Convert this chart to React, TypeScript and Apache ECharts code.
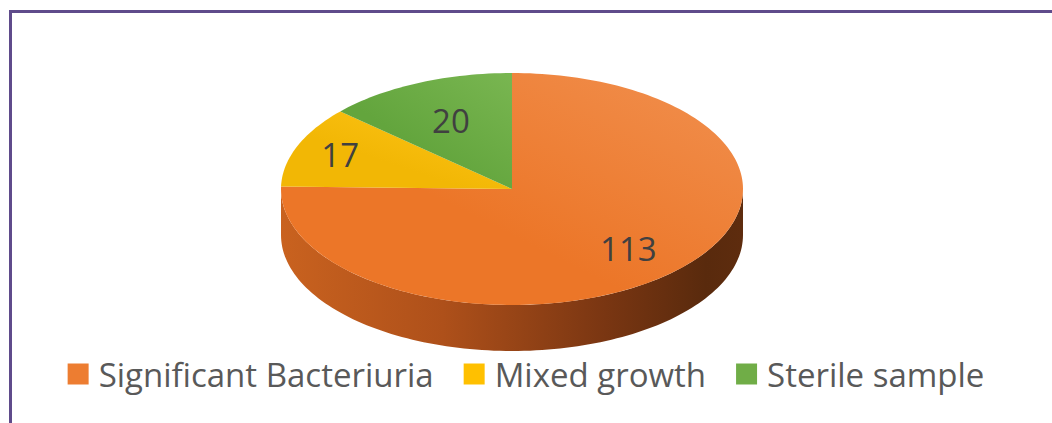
import React, { useEffect, useRef } from "react";
import * as echarts from "echarts";

const categories = ["Significant Bacteriuria", "Mixed growth", "Sterile sample"];
const values = [113, 17, 20];
const colors = ["#ED7D31", "#FFC000", "#70AD47"];
const topGradients = [
  ["#F1904F", "#EC7628"],
  ["#FFC61A", "#F2B705"],
  ["#79B651", "#63A53D"],
];

// layout of the tilted pie
const CX = 512;
const CY = 189;
const RX = 231;
const RY = 116;
const DEPTH = 46;
const LABEL_RADIUS = [0.72, 0.8, 0.65];

const total = values.reduce((a, b) => a + b, 0);
const startAngle = (i: number) =>
  (values.slice(0, i).reduce((a, b) => a + b, 0) / total) * Math.PI * 2;

const pt = (a: number, dy = 0): number[] => [CX + RX * Math.sin(a), CY - RY * Math.cos(a) + dy];

const arcPoints = (a0: number, a1: number, dy = 0) => {
  const pts: number[][] = [];
  const n = Math.max(2, Math.ceil(((a1 - a0) / (Math.PI * 2)) * 240));
  for (let k = 0; k <= n; k++) pts.push(pt(a0 + ((a1 - a0) * k) / n, dy));
  return pts;
};

export default function App() {
  const ref = useRef<HTMLDivElement>(null);
  useEffect(() => {
    if (!ref.current) return;
    const chart = echarts.init(ref.current, undefined, { renderer: "svg" });
    const wallFill = new echarts.graphic.LinearGradient(
      CX - RX, 0, CX + RX, 0,
      [
        { offset: 0, color: "#C9621F" },
        { offset: 0.35, color: "#AE501A" },
        { offset: 0.7, color: "#7A3612" },
        { offset: 0.92, color: "#592A0D" },
        { offset: 1, color: "#5E2C0E" },
      ],
      true
    );
    chart.setOption({
      animation: false,
      backgroundColor: "#ffffff",
      graphic: [
        {
          type: "rect",
          shape: { x: 10.5, y: 11.5, width: 1200, height: 600 },
          style: { fill: "none", stroke: "#5F4B8B", lineWidth: 3 },
          silent: true,
          z: 100,
        },
      ],
      legend: {
        left: "center",
        top: 352,
        itemWidth: 21,
        itemHeight: 21,
        itemGap: 30,
        icon: "rect",
        selectedMode: false,
        data: categories,
        textStyle: {
          fontFamily: "Open Sans",
          fontSize: 33,
          lineHeight: 34,
          color: "#595959",
          padding: [0, 0, 0, 5],
        },
      },
      series: [
        {
          type: "custom",
          name: "wall",
          coordinateSystem: "none",
          silent: true,
          data: values,
          renderItem: (params: any, api: any) => {
            const i = params.dataIndex;
            const a0 = startAngle(i);
            const a1 = a0 + (api.value(0) / total) * Math.PI * 2;
            const s = Math.max(a0, Math.PI / 2);
            const e = Math.min(a1, (Math.PI * 3) / 2);
            if (e <= s) return { type: "group", children: [] };
            const upper = arcPoints(s, e);
            const lower = arcPoints(s, e, DEPTH).reverse();
            return {
              type: "polygon",
              shape: { points: upper.concat(lower) },
              style: { fill: wallFill },
            };
          },
        },
        {
          type: "custom",
          name: "top",
          coordinateSystem: "none",
          silent: true,
          data: values,
          renderItem: (params: any, api: any) => {
            const i = params.dataIndex;
            const v = api.value(0);
            const a0 = startAngle(i);
            const a1 = a0 + (v / total) * Math.PI * 2;
            const pts = [[CX, CY]].concat(arcPoints(a0, a1));
            const mid = (a0 + a1) / 2;
            const f = LABEL_RADIUS[i];
            const lp = [CX + RX * f * Math.sin(mid), CY - RY * f * Math.cos(mid)];
            const g = topGradients[i];
            return {
              type: "group",
              children: [
                {
                  type: "polygon",
                  shape: { points: pts },
                  style: {
                    fill: new echarts.graphic.LinearGradient(1, 0, 0, 1, [
                      { offset: 0, color: g[0] },
                      { offset: 0.6, color: g[1] },
                      { offset: 1, color: g[1] },
                    ]),
                  },
                },
                {
                  type: "text",
                  z2: 50,
                  style: {
                    text: String(v),
                    x: lp[0],
                    y: lp[1],
                    align: "center",
                    verticalAlign: "middle",
                    fontFamily: "Open Sans",
                    fontSize: 33,
                    fill: "#404040",
                  },
                },
              ],
            };
          },
        },
        {
          type: "pie",
          name: "legend",
          radius: [0, 0],
          center: [-100, -100],
          silent: true,
          label: { show: false },
          labelLine: { show: false },
          data: categories.map((c, i) => ({
            name: c,
            value: values[i],
            itemStyle: { color: colors[i] },
          })),
        },
      ],
    });
    return () => chart.dispose();
  }, []);
  return (
    <div
      ref={ref}
      style={{ position: "absolute", left: 0, top: 0, width: 1052, height: 423 }}
    />
  );
}
